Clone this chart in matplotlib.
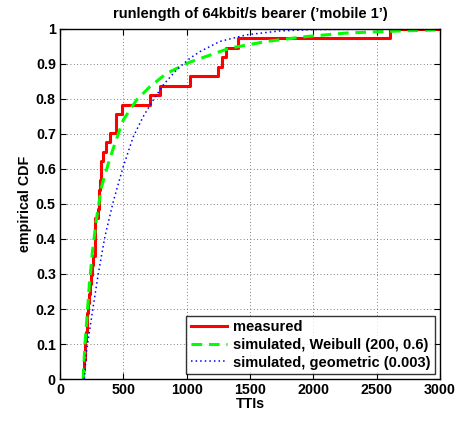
"""ECDF of run lengths for the 64kbit/s bearer, measured vs simulated."""
import matplotlib
matplotlib.use("Agg")
import matplotlib.pyplot as plt
import numpy as np

# measured run lengths (TTIs)
runlengths = [184, 189, 194, 199, 205, 211, 217, 223, 229, 236, 243, 250, 257,
              276, 276, 276, 276, 303, 307, 312, 317, 323, 327, 338, 360, 395,
              440, 445, 490, 711, 789, 1026, 1250, 1276, 1311, 1408, 2605]

# simulated curves
weibull_x = [184, 190, 197, 216, 232, 255, 289, 329, 382, 434, 500, 605, 711,
             842, 1026, 1342, 1632, 1947, 2263, 2684, 3000]
weibull_y = [0.0, 0.05, 0.10, 0.19, 0.27, 0.36, 0.46, 0.55, 0.616, 0.673, 0.74,
             0.797, 0.835, 0.873, 0.905, 0.945, 0.964, 0.978, 0.988, 0.994, 0.997]
geom_x = [192, 211, 250, 303, 355, 421, 500, 579, 658, 737, 816, 921, 1026,
          1105, 1263, 1474, 1737, 2000, 3000]
geom_y = [0.0, 0.083, 0.178, 0.302, 0.407, 0.507, 0.607, 0.692, 0.75, 0.797,
          0.84, 0.883, 0.916, 0.935, 0.964, 0.983, 0.994, 0.998, 1.0]

plt.rcParams["font.family"] = ["Liberation Sans", "DejaVu Sans"]
plt.rcParams["font.weight"] = "bold"

fig = plt.figure(figsize=(4.65, 4.24), dpi=100)
ax = fig.add_axes([0.129, 0.106, 0.817, 0.826])

xs = np.sort(np.array(runlengths, dtype=float))
ys = np.arange(1, len(xs) + 1) / len(xs)
xs = np.concatenate([[xs[0]], xs, [3000]])
ys = np.concatenate([[0.0], ys, [1.0]])

ax.plot(xs, ys, drawstyle="steps-post", color="#ff0000", linewidth=2.2, label="measured")
ax.plot(weibull_x, weibull_y, color="#00ff00", linestyle=(0, (3.5, 2.2)), linewidth=2.2,
        label="simulated, Weibull (200, 0.6)")
ax.plot(geom_x, geom_y, color="#0000ff", linestyle=(0, (1, 2)), linewidth=1.1,
        label="simulated, geometric (0.003)")

ax.set_xlim(0, 3000)
ax.set_ylim(0, 1)
ax.set_xticks(np.arange(0, 3001, 500))
ax.set_yticks(np.round(np.arange(0, 1.01, 0.1), 1))
ax.set_yticklabels(["0", "0.1", "0.2", "0.3", "0.4", "0.5", "0.6", "0.7", "0.8", "0.9", "1"])
ax.tick_params(direction="in", top=True, right=True, labelsize=10.3, length=4, pad=3)
ax.grid(True, linestyle=(0, (1, 3)), color="#555555", linewidth=0.6)
for s in ax.spines.values():
    s.set_linewidth(1.0)

ax.set_xlabel("TTIs", fontsize=10.3, fontweight="bold", labelpad=0)
ax.set_ylabel("empirical CDF", fontsize=10.3, fontweight="bold", labelpad=3)
ax.set_title("runlength of 64kbit/s bearer (\u2019mobile 1\u2019)", fontsize=10.5,
             fontweight="bold", pad=8)

leg = ax.legend(loc="lower right", fontsize=10.5, frameon=True, fancybox=False,
                edgecolor="black", borderpad=0.3, labelspacing=0.25,
                handlelength=2.5, handletextpad=0.4, borderaxespad=0.35)
leg.get_frame().set_linewidth(1.0)
for t in leg.get_texts():
    t.set_fontweight("bold")

fig.savefig("out.png", dpi=100)
